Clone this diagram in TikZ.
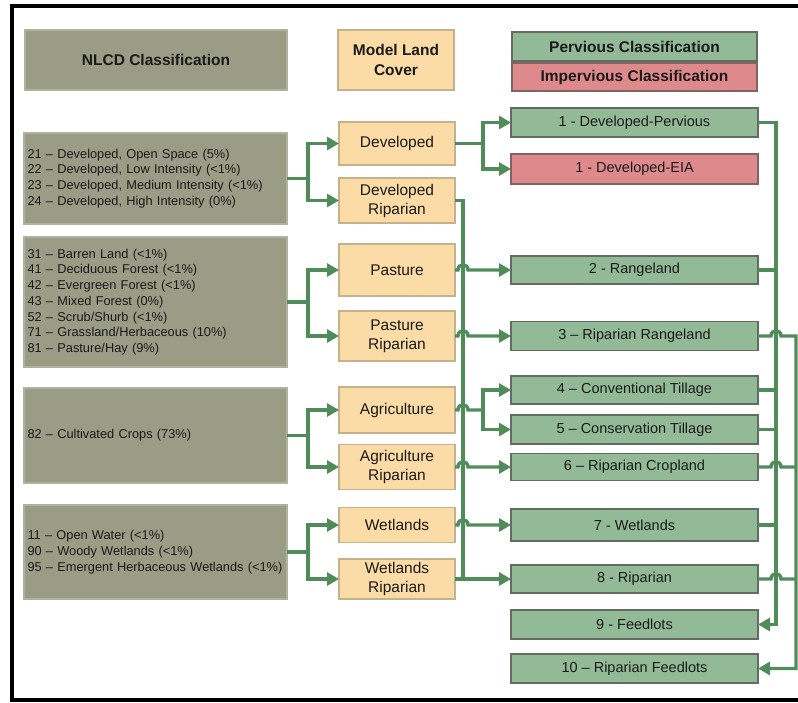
\documentclass[tikz,border=0pt]{standalone}
\usepackage{fontspec}
\setmainfont{Liberation Sans}
\usetikzlibrary{arrows.meta}
\definecolor{nlcdfill}{RGB}{154,156,134}
\definecolor{nlcddraw}{RGB}{176,178,160}
\definecolor{peachfill}{RGB}{252,220,166}
\definecolor{peachdraw}{RGB}{196,178,140}
\definecolor{greenfill}{RGB}{146,186,150}
\definecolor{greendraw}{RGB}{98,108,98}
\definecolor{redfill}{RGB}{222,138,140}
\definecolor{reddraw}{RGB}{128,100,100}
\definecolor{linec}{RGB}{80,140,90}
\definecolor{textc}{RGB}{26,26,26}
\tikzset{
  box/.style={inner sep=0pt, outer sep=0pt, line width=1.2pt, text=textc, align=center},
  nlcd/.style={box, fill=nlcdfill, draw=nlcddraw, minimum width=263pt, text width=256pt, align=left,
    font=\fontsize{12.8}{15.7}\selectfont},
  hdr/.style={box, font=\fontsize{15.5}{20}\selectfont\bfseries},
  mlc/.style={box, fill=peachfill, draw=peachdraw, minimum width=116pt, font=\fontsize{15.5}{19}\selectfont},
  perv/.style={box, fill=greenfill, draw=greendraw, minimum width=247pt, font=\fontsize{14.5}{17}\selectfont},
  imperv/.style={box, fill=redfill, draw=reddraw, minimum width=247pt, font=\fontsize{14.5}{17}\selectfont},
  conn/.style={draw=linec, line width=3.4pt},
  arr/.style={conn, -{Triangle[length=12pt,width=13pt]}}
}
\begin{document}
\begin{tikzpicture}[x=1pt,y=-1pt]
\useasboundingbox (0,0) rectangle (798,702);
% frame
\draw[line width=4pt] (800,6) -- (12,6) -- (12,700) -- (800,700);

% headers
\node[hdr, fill=nlcdfill, draw=nlcddraw, minimum width=262pt, minimum height=60pt] (hn) at (156,60) {NLCD Classification};
\node[hdr, fill=peachfill, draw=peachdraw, minimum width=116pt, minimum height=60pt] (hm) at (396,60) {Model Land\\Cover};
\node[hdr, fill=greenfill, draw=greendraw, minimum width=245pt, minimum height=29pt] (hp) at (634.5,46.5) {Pervious Classification};
\node[hdr, fill=redfill, draw=reddraw, minimum width=245pt, minimum height=28pt] (hi) at (634.5,77) {Impervious Classification};

% NLCD classes
\node[nlcd, minimum height=91pt] (n1) at (155.5,178.5) {21 – Developed, Open Space (5\%)\\22 – Developed, Low Intensity (<1\%)\\23 – Developed, Medium Intensity (<1\%)\\24 – Developed, High Intensity (0\%)};
\node[nlcd, minimum height=130pt] (n2) at (155.5,302) {31 – Barren Land (<1\%)\\41 – Deciduous Forest (<1\%)\\42 – Evergreen Forest (<1\%)\\43 – Mixed Forest (0\%)\\52 – Scrub/Shurb (<1\%)\\71 – Grassland/Herbaceous (10\%)\\81 – Pasture/Hay (9\%)};
\node[nlcd, minimum height=95pt] (n3) at (155.5,435.5) {82 – Cultivated Crops (73\%)};
\node[nlcd, minimum height=94pt] (n4) at (155.5,552) {11 – Open Water (<1\%)\\90 – Woody Wetlands (<1\%)\\95 – Emergent Herbaceous Wetlands (<1\%)};

% model land cover
\node[mlc, minimum height=43pt] (dev) at (397,143.5) {Developed};
\node[mlc, minimum height=45pt] (devrip) at (397,200.5) {Developed\\Riparian};
\node[mlc, minimum height=52pt] (pas) at (397,270) {Pasture};
\node[mlc, minimum height=50pt] (pasrip) at (397,336) {Pasture\\Riparian};
\node[mlc, minimum height=46pt] (agri) at (397,410) {Agriculture};
\node[mlc, minimum height=45pt] (agrip) at (397,467) {Agriculture\\Riparian};
\node[mlc, minimum height=35pt] (wet) at (397,525) {Wetlands};
\node[mlc, minimum height=40pt] (wetrip) at (397,579) {Wetlands\\Riparian};

% pervious / impervious classes
\node[perv, minimum height=29pt] (g1) at (634.5,122.5) {1 - Developed-Pervious};
\node[imperv, minimum height=30pt] (e1) at (634.5,169) {1 - Developed-EIA};
\node[perv, minimum height=28pt] (g2) at (634.5,270) {2 - Rangeland};
\node[perv, minimum height=29pt] (g3) at (634.5,336) {3 – Riparian Rangeland};
\node[perv, minimum height=28pt] (g4) at (634.5,390) {4 – Conventional Tillage};
\node[perv, minimum height=29pt] (g5) at (634.5,429.5) {5 – Conservation Tillage};
\node[perv, minimum height=27pt] (g6) at (634.5,467) {6 – Riparian Cropland};
\node[perv, minimum height=32pt] (g7) at (634.5,525) {7 - Wetlands};
\node[perv, minimum height=28pt] (g8) at (634.5,579) {8 - Riparian};
\node[perv, minimum height=29pt] (g9) at (634.5,624.5) {9 - Feedlots};
\node[perv, minimum height=29pt] (g10) at (634.5,668.5) {10 – Riparian Feedlots};

% junction coordinates
\coordinate (j1) at (308,178.5);
\coordinate (j2) at (308,302);
\coordinate (j3) at (308,435.5);
\coordinate (j4) at (308,552);
\coordinate (j5) at (483,143.5);
\coordinate (j6) at (483,410);
\coordinate (busA) at (463,0);
\coordinate (busB) at (776,0);
\coordinate (busC) at (796,0);

% NLCD -> model land cover
\draw[conn] (n1.east) -- (j1);
\draw[arr] (j1) |- (dev.west);
\draw[arr] (j1) |- (devrip.west);
\draw[conn] (n2.east) -- (j2);
\draw[arr] (j2) |- (pas.west);
\draw[arr] (j2) |- (pasrip.west);
\draw[conn] (n3.east) -- (j3);
\draw[arr] (j3) |- (agri.west);
\draw[arr] (j3) |- (agrip.west);
\draw[conn] (n4.east) -- (j4);
\draw[arr] (j4) |- (wet.west);
\draw[arr] (j4) |- (wetrip.west);

% model land cover -> classes
\draw[conn] (dev.east) -- (j5);
\draw[arr] (j5) |- (g1.west);
\draw[arr] (j5) |- (e1.west);
\draw[conn] (devrip.east) -- (devrip.east -| busA) -- (wetrip.east -| busA);
\draw[arr] (pas.east) -- (458,270) .. controls (458,263) and (468,263) .. (468,270) -- (g2.west);
\draw[arr] (pasrip.east) -- (458,336) .. controls (458,329) and (468,329) .. (468,336) -- (g3.west);
\draw[conn] (agri.east) -- (458,410) .. controls (458,403) and (468,403) .. (468,410) -- (j6);
\draw[arr] (j6) |- (g4.west);
\draw[arr] (j6) |- (g5.west);
\draw[arr] (agrip.east) -- (458,467) .. controls (458,460) and (468,460) .. (468,467) -- (g6.west);
\draw[arr] (wet.east) -- (458,525) .. controls (458,518) and (468,518) .. (468,525) -- (g7.west);
\draw[arr] (wetrip.east) -- (g8.west);

% right buses
\draw[arr] (g1.east) -- (g1.east -| busB) |- (g9.east);
\draw[conn] (g2.east) -- (g2.east -| busB);
\draw[conn] (g4.east) -- (g4.east -| busB);
\draw[conn] (g5.east) -- (g5.east -| busB);
\draw[conn] (g7.east) -- (g7.east -| busB);
\draw[arr] (g3.east) -- (771,336) .. controls (771,329) and (781,329) .. (781,336) -- (g3.east -| busC) |- (g10.east);
\draw[conn] (g6.east) -- (771,467) .. controls (771,460) and (781,460) .. (781,467) -- (g6.east -| busC);
\draw[conn] (g8.east) -- (771,579) .. controls (771,572) and (781,572) .. (781,579) -- (g8.east -| busC);
\end{tikzpicture}
\end{document}
